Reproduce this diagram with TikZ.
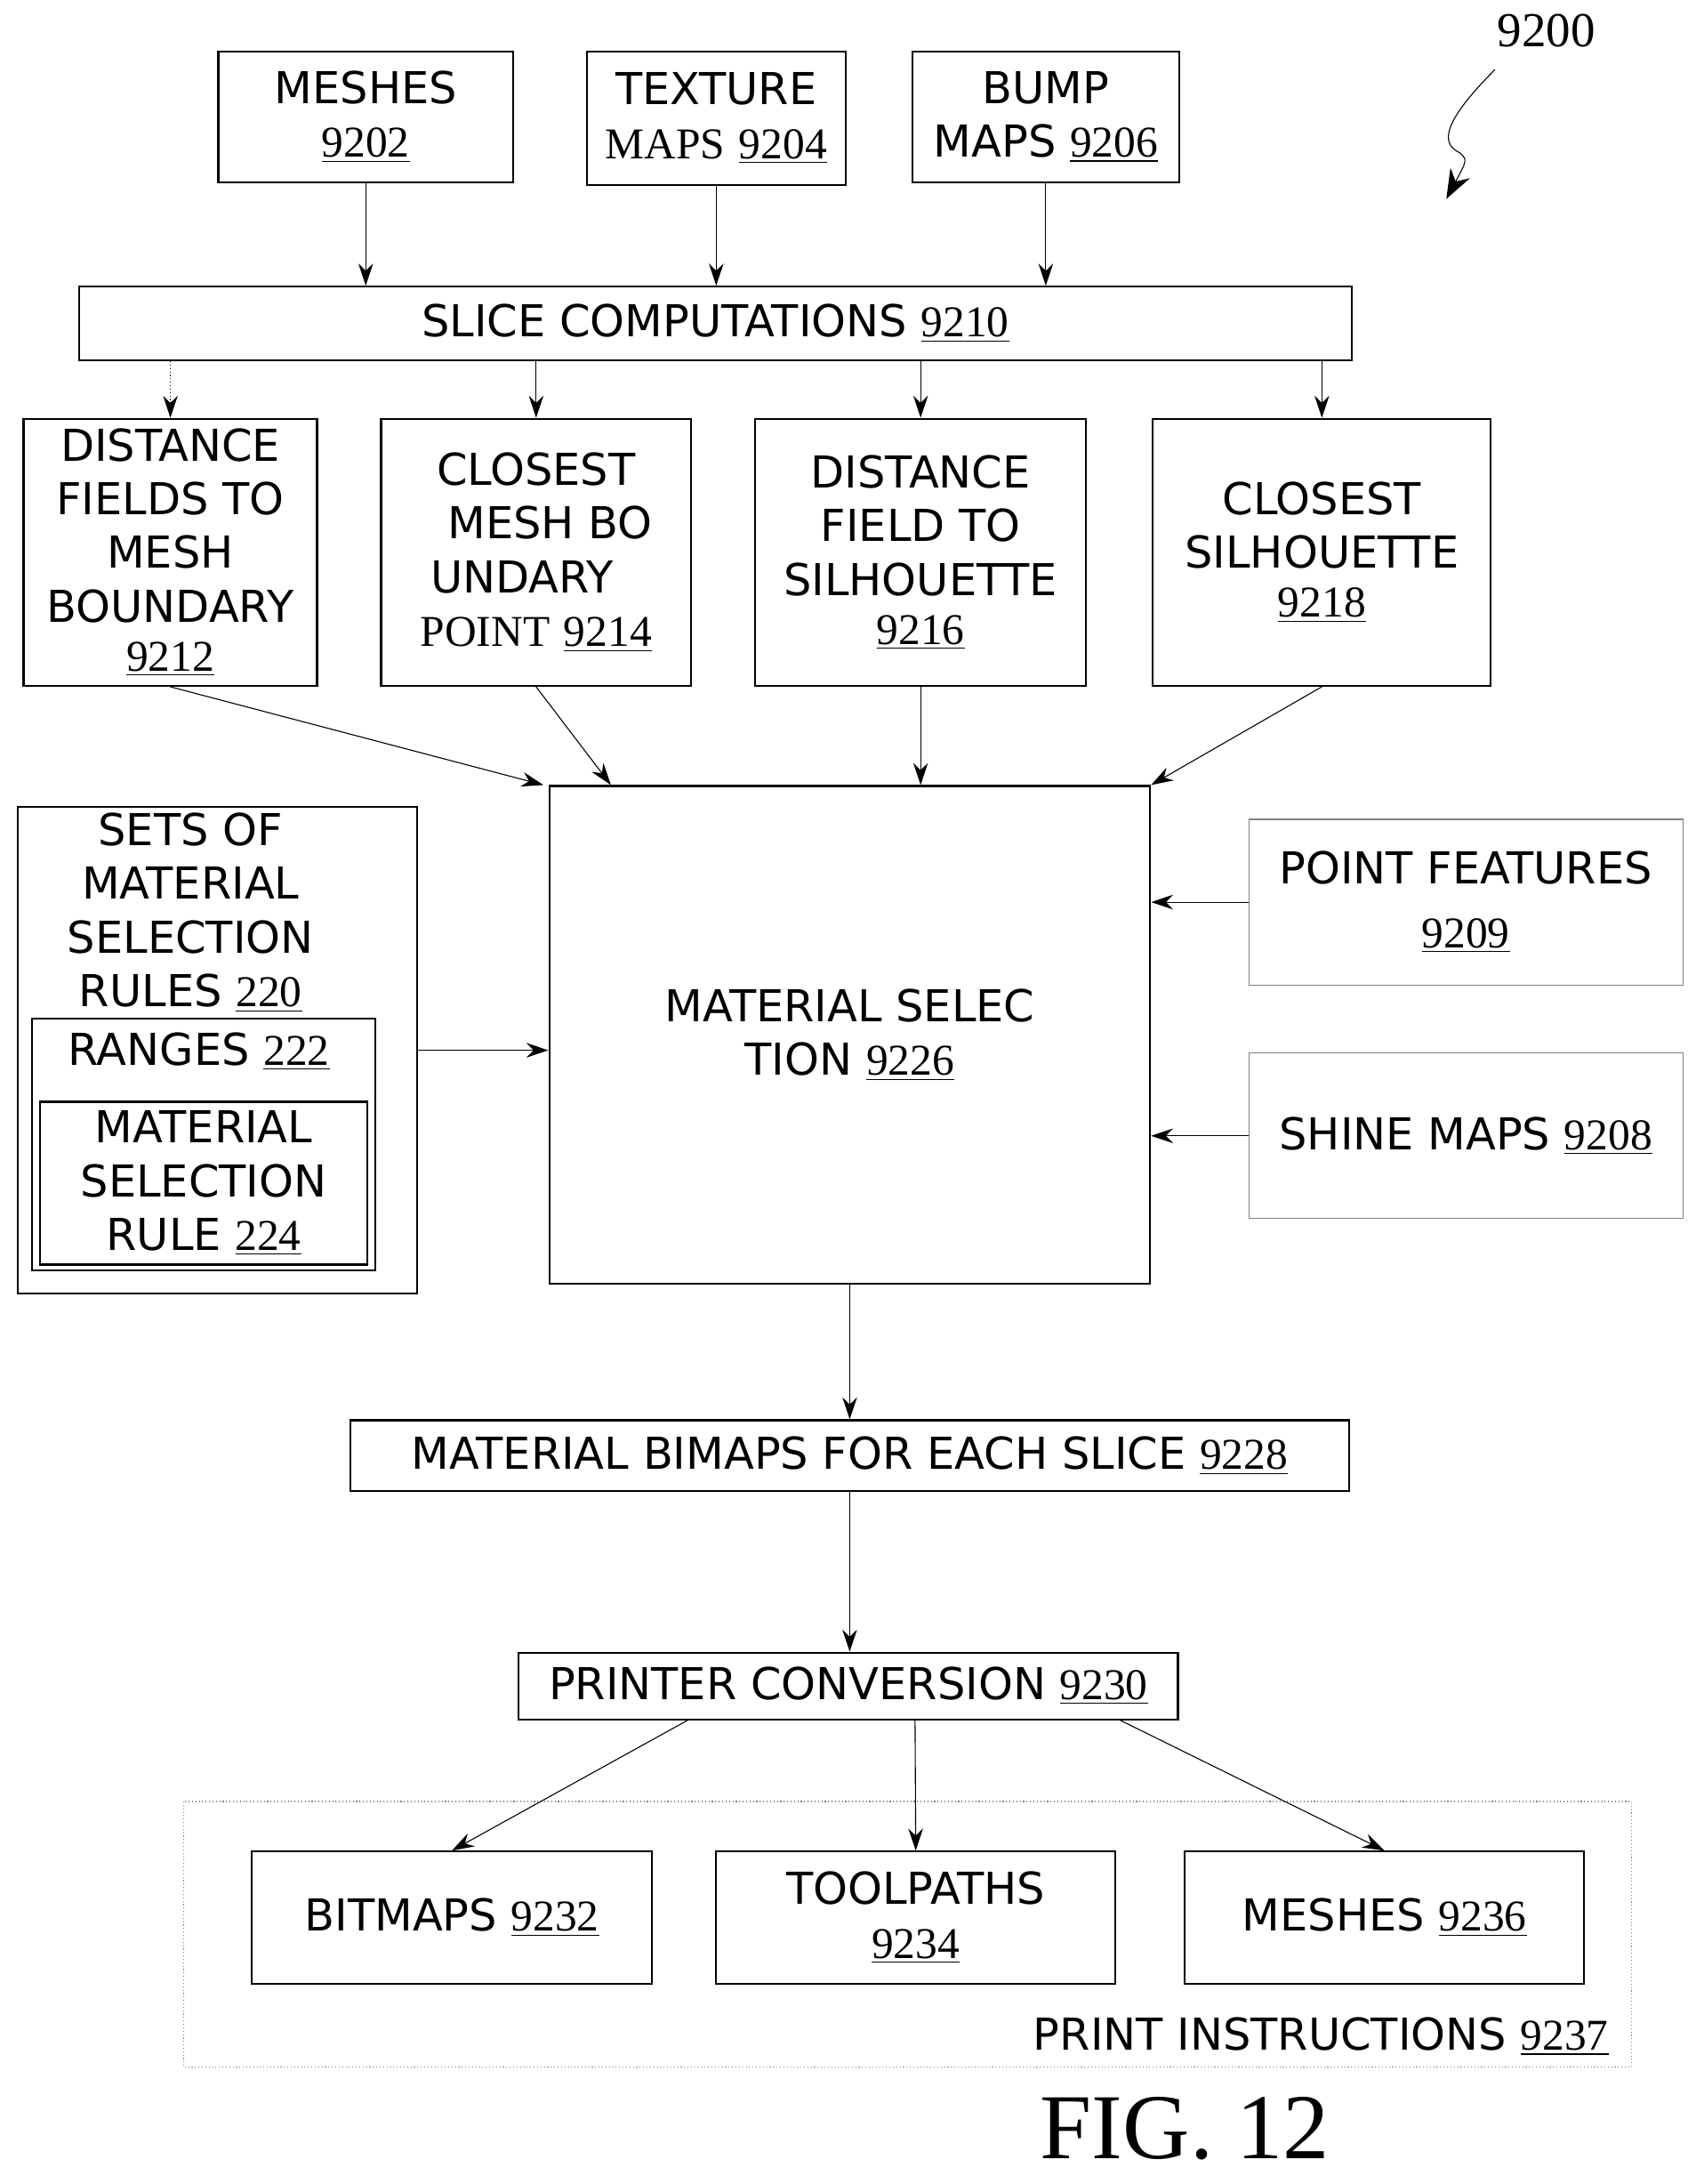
\documentclass[tikz,border=0pt]{standalone}
\usepackage{fontspec}
\setsansfont{DejaVu Sans}
\setmainfont{Liberation Serif}
\usetikzlibrary{arrows.meta}
\newcommand{\refnum}[1]{{\rmfamily\underline{#1}}}

\begin{document}
\begin{tikzpicture}[x=0.02cm,y=-0.02cm,
    box/.style={draw, thick, inner sep=0pt, align=center, font={\sffamily\fontsize{18}{22}\selectfont}},
    soft/.style={draw=gray, thin, inner sep=0pt, align=center, font={\sffamily\fontsize{18}{22}\selectfont}},
    lbl/.style={inner sep=0pt, align=center, font={\sffamily\fontsize{18}{22}\selectfont}},
    arr/.style={-{Stealth[length=9pt,width=6pt]}, thin}]
    \useasboundingbox (0,0) rectangle (1225,1570);
    % inputs
    \node[box, minimum width=212*0.02cm, minimum height=94*0.02cm] (meshes) at (263,84) {MESHES\\\refnum{9202}};
    \node[box, minimum width=186*0.02cm, minimum height=96*0.02cm] (texture) at (515,85) {TEXTURE\\{\rmfamily MAPS} \refnum{9204}};
    \node[box, minimum width=192*0.02cm, minimum height=94*0.02cm] (bump) at (752,84) {BUMP\\MAPS \refnum{9206}};
    \node[box, minimum width=915*0.02cm, minimum height=53*0.02cm] (slice) at (514.5,232.5) {SLICE COMPUTATIONS \refnum{9210}};
    \node[lbl, font={\rmfamily\fontsize{20}{24}\selectfont}] (fignum) at (1112,22) {9200};
    \draw[-{Stealth[length=12pt]}] (1075,50) .. controls (1030,95) and (1040,105) .. (1050,110) .. controls (1055,115) .. (1040,143);
    % slice results
    \node[box, minimum width=211*0.02cm, minimum height=192*0.02cm] (distmesh) at (122.5,397) {DISTANCE\\FIELDS TO\\MESH\\BOUNDARY\\[-2pt]\refnum{9212}};
    \node[box, minimum width=223*0.02cm, minimum height=192*0.02cm] (closemesh) at (385.5,397) {CLOSEST\\ \ \ MESH BO\\UNDARY\ \ \ \ \\ {\rmfamily POINT} \refnum{9214}};
    \node[box, minimum width=238*0.02cm, minimum height=192*0.02cm] (distsil) at (662,397) {DISTANCE\\FIELD TO\\SILHOUETTE\\[-2pt]\refnum{9216}};
    \node[box, minimum width=243*0.02cm, minimum height=192*0.02cm] (closesil) at (950.5,397) {CLOSEST\\SILHOUETTE\\[-2pt]\refnum{9218}};
    % selection
    \node[box, minimum width=432*0.02cm, minimum height=358*0.02cm] (matsel) at (611,744) {MATERIAL SELEC\\TION \refnum{9226}};
    \node[box, minimum width=287*0.02cm, minimum height=350*0.02cm] (sets) at (156.5,755) {};
    \node[lbl] (setstext) at (137,656) {SETS OF\\MATERIAL\\SELECTION\\RULES \refnum{220}};
    \node[box, minimum width=247*0.02cm, minimum height=181*0.02cm] (ranges) at (146.5,822.5) {};
    \node[lbl] (rangestext) at (143,756) {RANGES \refnum{222}};
    \node[box, minimum width=235*0.02cm, minimum height=117*0.02cm] (rule) at (146.5,850.5) {MATERIAL\\SELECTION\\RULE \refnum{224}};
    \node[soft, minimum width=312*0.02cm, minimum height=119*0.02cm] (points) at (1054,648.5) {POINT FEATURES\\[4pt]\refnum{9209}};
    \node[soft, minimum width=312*0.02cm, minimum height=119*0.02cm] (shine) at (1054,816.5) {SHINE MAPS \refnum{9208}};
    % output
    \node[box, minimum width=718*0.02cm, minimum height=51*0.02cm] (bimaps) at (611,1046.5) {MATERIAL BIMAPS FOR EACH SLICE \refnum{9228}};
    \node[box, minimum width=474*0.02cm, minimum height=48*0.02cm] (printer) at (610,1212) {PRINTER CONVERSION \refnum{9230}};
    \draw[gray, thin, densely dotted] (132,1295) rectangle (1173,1486);
    \node[lbl, anchor=south east] (printtext) at (1157,1478) {PRINT INSTRUCTIONS \refnum{9237}};
    \node[box, minimum width=288*0.02cm, minimum height=95*0.02cm] (bitmaps) at (325,1378.5) {BITMAPS \refnum{9232}};
    \node[box, minimum width=287*0.02cm, minimum height=95*0.02cm] (toolpaths) at (658.5,1378.5) {TOOLPATHS\\\refnum{9234}};
    \node[box, minimum width=287*0.02cm, minimum height=95*0.02cm] (meshesout) at (995.5,1378.5) {MESHES \refnum{9236}};
    \node[lbl, font={\rmfamily\fontsize{38}{44}\selectfont}] (fig) at (852,1530) {FIG. 12};
    % connectors
    \draw[arr] (meshes.south) -- (meshes.south |- slice.north);
    \draw[arr] (texture.south) -- (texture.south |- slice.north);
    \draw[arr] (bump.south) -- (bump.south |- slice.north);
    \draw[arr, densely dotted] (distmesh.north |- slice.south) -- (distmesh.north);
    \draw[arr] (closemesh.north |- slice.south) -- (closemesh.north);
    \draw[arr] (distsil.north |- slice.south) -- (distsil.north);
    \draw[arr] (closesil.north |- slice.south) -- (closesil.north);
    \draw[arr] (distmesh.south) -- ([xshift=-2]matsel.north west);
    \draw[arr] (closemesh.south) -- ([xshift=45*0.02cm]matsel.north west);
    \draw[arr] (distsil.south) -- (distsil.south |- matsel.north);
    \draw[arr] (closesil.south) -- (matsel.north east);
    \draw[arr] (sets.east) -- (sets.east -| matsel.west);
    \draw[arr] (points.west) -- (points.west -| matsel.east);
    \draw[arr] (shine.west) -- (shine.west -| matsel.east);
    \draw[arr] (matsel.south) -- (bimaps.north);
    \draw[arr] (bimaps.south) -- (bimaps.south |- printer.north);
    \draw[arr] ([xshift=122*0.02cm]printer.south west) -- (bitmaps.north);
    \draw[arr] ([xshift=48*0.02cm]printer.south) -- (toolpaths.north);
    \draw[arr] ([xshift=-42*0.02cm]printer.south east) -- (meshesout.north);
\end{tikzpicture}
\end{document}
